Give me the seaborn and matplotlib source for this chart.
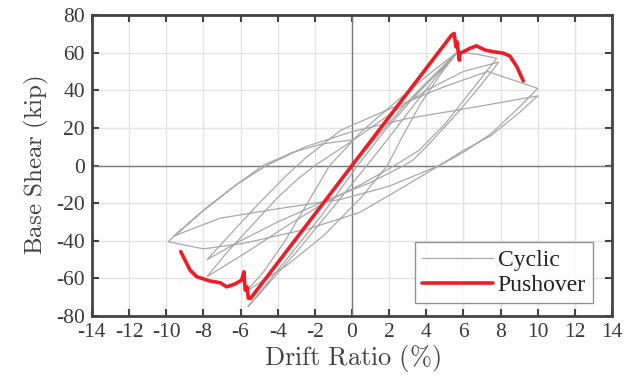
import numpy as np
import pandas as pd
import matplotlib
matplotlib.use("Agg")
import matplotlib.pyplot as plt
import seaborn as sns

# cyclic test path (drift %, base shear kip)
cyclic_drift = [
    0, 1.5, 3, 4.5, 5.7,
    4.7, 3.4, 2, 0.8, -1, -3, -4.6, -5.6,
    -4.6, -3.2, -1.6, 0.3, 1.8, 3.4, 4.7, 5.7,
    4.8, 3.7, 2.8, 1.9, 0.5, -1.5, -3.5, -5.7,
    -4.8, -3.6, -2.4, -1.2, 0.5, 2.5, 4.2, 5.7, 6.8, 7.8,
    6.6, 5, 3.6, 2.3, 0.5, -1.5, -3.5, -5.5, -6.8, -7.8,
    -6.8, -5.5, -4, -2.9, -2, 0, 2, 4, 6, 7.9,
    6.8, 5.5, 4.2, 3.3, 2.8, 1, -1.5, -4, -6, -7.8,
    -6.5, -5, -3.5, -2.5, -0.6, 2, 5, 7.3, 10,
    9, 7.5, 6, 4.7, 2.5, 0.4, -2.3, -5.85, -8, -9.9,
    -8, -6.2, -4.6, -2.5, 0, 3, 6, 8, 10,
    9, 7.5, 6, 4.7, 2, -0.6, -4, -7.1, -9.6,
    -8, -6.2, -4.8, -3.2, -1.6, 0,
]
cyclic_shear = [
    0, 17, 34, 49, 60.5,
    49, 33, 15, 0, -22, -46, -64, -75,
    -63, -46, -26, 0, 19, 37, 50, 60.5,
    49, 33, 17, 0, -17, -37, -53, -67,
    -57, -40, -20, 0, 18, 35, 49, 60.5, 59, 57,
    42, 22, 8, 0, -10, -20, -32, -45, -53, -59,
    -47, -33, -17, -7, 0, 13, 27, 40, 50, 55,
    41, 26, 12, 3, 0, -9, -19, -30, -40, -50,
    -36, -20, -5, 4, 18.8, 30, 42, 50, 41,
    31, 17, 7, 0, -13, -25, -33.5, -41.4, -44.3, -40.5,
    -24, -10, 0, 10, 18, 25, 30, 33.5, 37,
    28, 16, 8, 0, -11, -18, -23, -28, -37.5,
    -23.7, -10, 0, 7, 11.5, 13.6,
]

# pushover curve, negative branch joined to positive branch through the origin
push_drift = [-9.22, -8.72, -8.36, -7.65, -7.1, -6.75, -6.3, -5.94, -5.82, -5.75,
              -5.65, -5.58, -5.46, 0,
              5.37, 5.5, 5.6, 5.65, 5.78, 5.82, 6.0, 6.35, 6.7, 7.16, 7.6,
              8.15, 8.5, 8.87, 9.22]
push_shear = [-45.8, -55.6, -59.1, -61.4, -62.3, -64.5, -63, -60.9, -56.5, -66.2,
              -64.5, -70.6, -70.6, 0,
              69.4, 70.2, 63, 65.8, 56, 59.7, 60.5, 62.3, 63.6, 61.4, 60.5,
              59.7, 58.2, 52.6, 45]

x_ticks = list(range(-14, 15, 2))
y_ticks = list(range(-80, 81, 20))

cyc = pd.DataFrame({"drift": cyclic_drift, "shear": cyclic_shear})
push = pd.DataFrame({"drift": push_drift, "shear": push_shear})

sns.set_style("ticks")
plt.rcParams["font.family"] = ["Liberation Serif", "DejaVu Serif"]
plt.rcParams["mathtext.fontset"] = "cm"
plt.rcParams["axes.unicode_minus"] = False

fig = plt.figure(figsize=(6.37, 3.9), dpi=100)
ax = fig.add_axes([0.1444, 0.1897, 0.8164, 0.7718])

ax.axhline(0, color="#7a7a7a", lw=1.0, zorder=1)
ax.axvline(0, color="#7a7a7a", lw=1.0, zorder=1)

sns.lineplot(data=cyc, x="drift", y="shear", sort=False, estimator=None,
             color="#a9a9a9", lw=0.9, label="Cyclic", ax=ax, zorder=2)
sns.lineplot(data=push, x="drift", y="shear", sort=False, estimator=None,
             color="#ee1c24", lw=2.6, label="Pushover", ax=ax, zorder=3)

ax.set_xlim(-14, 14)
ax.set_ylim(-80, 80)
ax.set_xticks(x_ticks)
ax.set_yticks(y_ticks)
ax.grid(True, color="#e3e3e3", lw=1.0, zorder=0)
ax.set_axisbelow(True)
ax.tick_params(direction="in", top=True, right=True, length=5, width=1.5,
               color="#444444", labelsize=15.5, labelcolor="#3a3a3a", pad=5)
for s in ax.spines.values():
    s.set_linewidth(2.0)
    s.set_color("#444444")

ax.set_xlabel(r"$\mathrm{Drift\ Ratio\ (\%)}$", fontsize=19, color="#444444", labelpad=1)
ax.set_ylabel(r"$\mathrm{Base\ Shear\ (kip)}$", fontsize=18, color="#444444", labelpad=4)

leg = ax.legend(loc="lower right", fontsize=17, frameon=True, fancybox=False,
                edgecolor="#777777", handlelength=3.0, borderpad=0.3,
                labelspacing=0.15, handletextpad=0.2, borderaxespad=0,
                bbox_to_anchor=(0.9635, 0.043))
leg.get_frame().set_linewidth(1.0)
for t in leg.get_texts():
    t.set_color("#222222")

fig.savefig("out.png", dpi=100)
